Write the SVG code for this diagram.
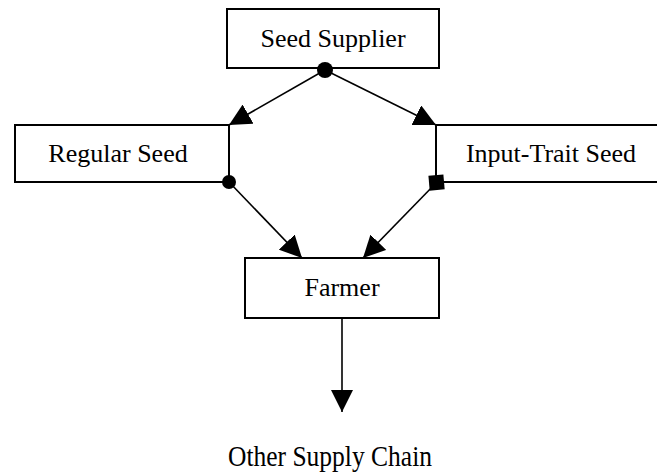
<svg xmlns="http://www.w3.org/2000/svg" width="657" height="473" viewBox="0 0 657 473">
<style>
.box{fill:#fff;stroke:#000;stroke-width:2}
.lbl{font-family:"Liberation Serif","Times New Roman",serif;font-size:26px;fill:#000;text-anchor:middle}
.edge{stroke:#000;stroke-width:1.6;fill:none}
</style>
<defs>
<marker id="arr" viewBox="0 0 22 22" refX="22" refY="11" markerWidth="22" markerHeight="22" markerUnits="userSpaceOnUse" orient="auto">
<path d="M0,0 L22,11 L0,22 z" fill="#000"/>
</marker>
</defs>
<rect width="657" height="473" fill="#fff"/>
<g id="seed-supplier">
<rect class="box" x="227" y="9" width="212" height="59"/>
<text class="lbl" x="333" y="47">Seed Supplier</text>
</g>
<g id="regular-seed">
<rect class="box" x="15" y="125" width="214" height="57"/>
<text class="lbl" x="118" y="162">Regular Seed</text>
</g>
<g id="input-trait-seed">
<rect class="box" x="436" y="125" width="230" height="57"/>
<text class="lbl" x="551" y="162">Input-Trait Seed</text>
</g>
<g id="farmer">
<rect class="box" x="245" y="258" width="194" height="60"/>
<text class="lbl" x="342" y="296">Farmer</text>
</g>
<g id="other-supply-chain">
<text class="lbl" x="330" y="466" style="font-size:29px" textLength="204" lengthAdjust="spacingAndGlyphs">Other Supply Chain</text>
</g>
<g id="connectors">
<line class="edge" x1="325" y1="70" x2="229" y2="125" marker-end="url(#arr)"/>
<line class="edge" x1="325" y1="70" x2="436" y2="125" marker-end="url(#arr)"/>
<line class="edge" x1="229" y1="182" x2="302" y2="258" marker-end="url(#arr)"/>
<line class="edge" x1="437" y1="182" x2="363" y2="258" marker-end="url(#arr)"/>
<line class="edge" x1="342" y1="318" x2="342" y2="412" marker-end="url(#arr)"/>
<circle cx="325" cy="70" r="8" fill="#000"/>
<circle cx="229" cy="182" r="7" fill="#000"/>
<rect x="429" y="175" width="15" height="15" fill="#000" transform="rotate(-5 437 182)"/>
</g>
</svg>
